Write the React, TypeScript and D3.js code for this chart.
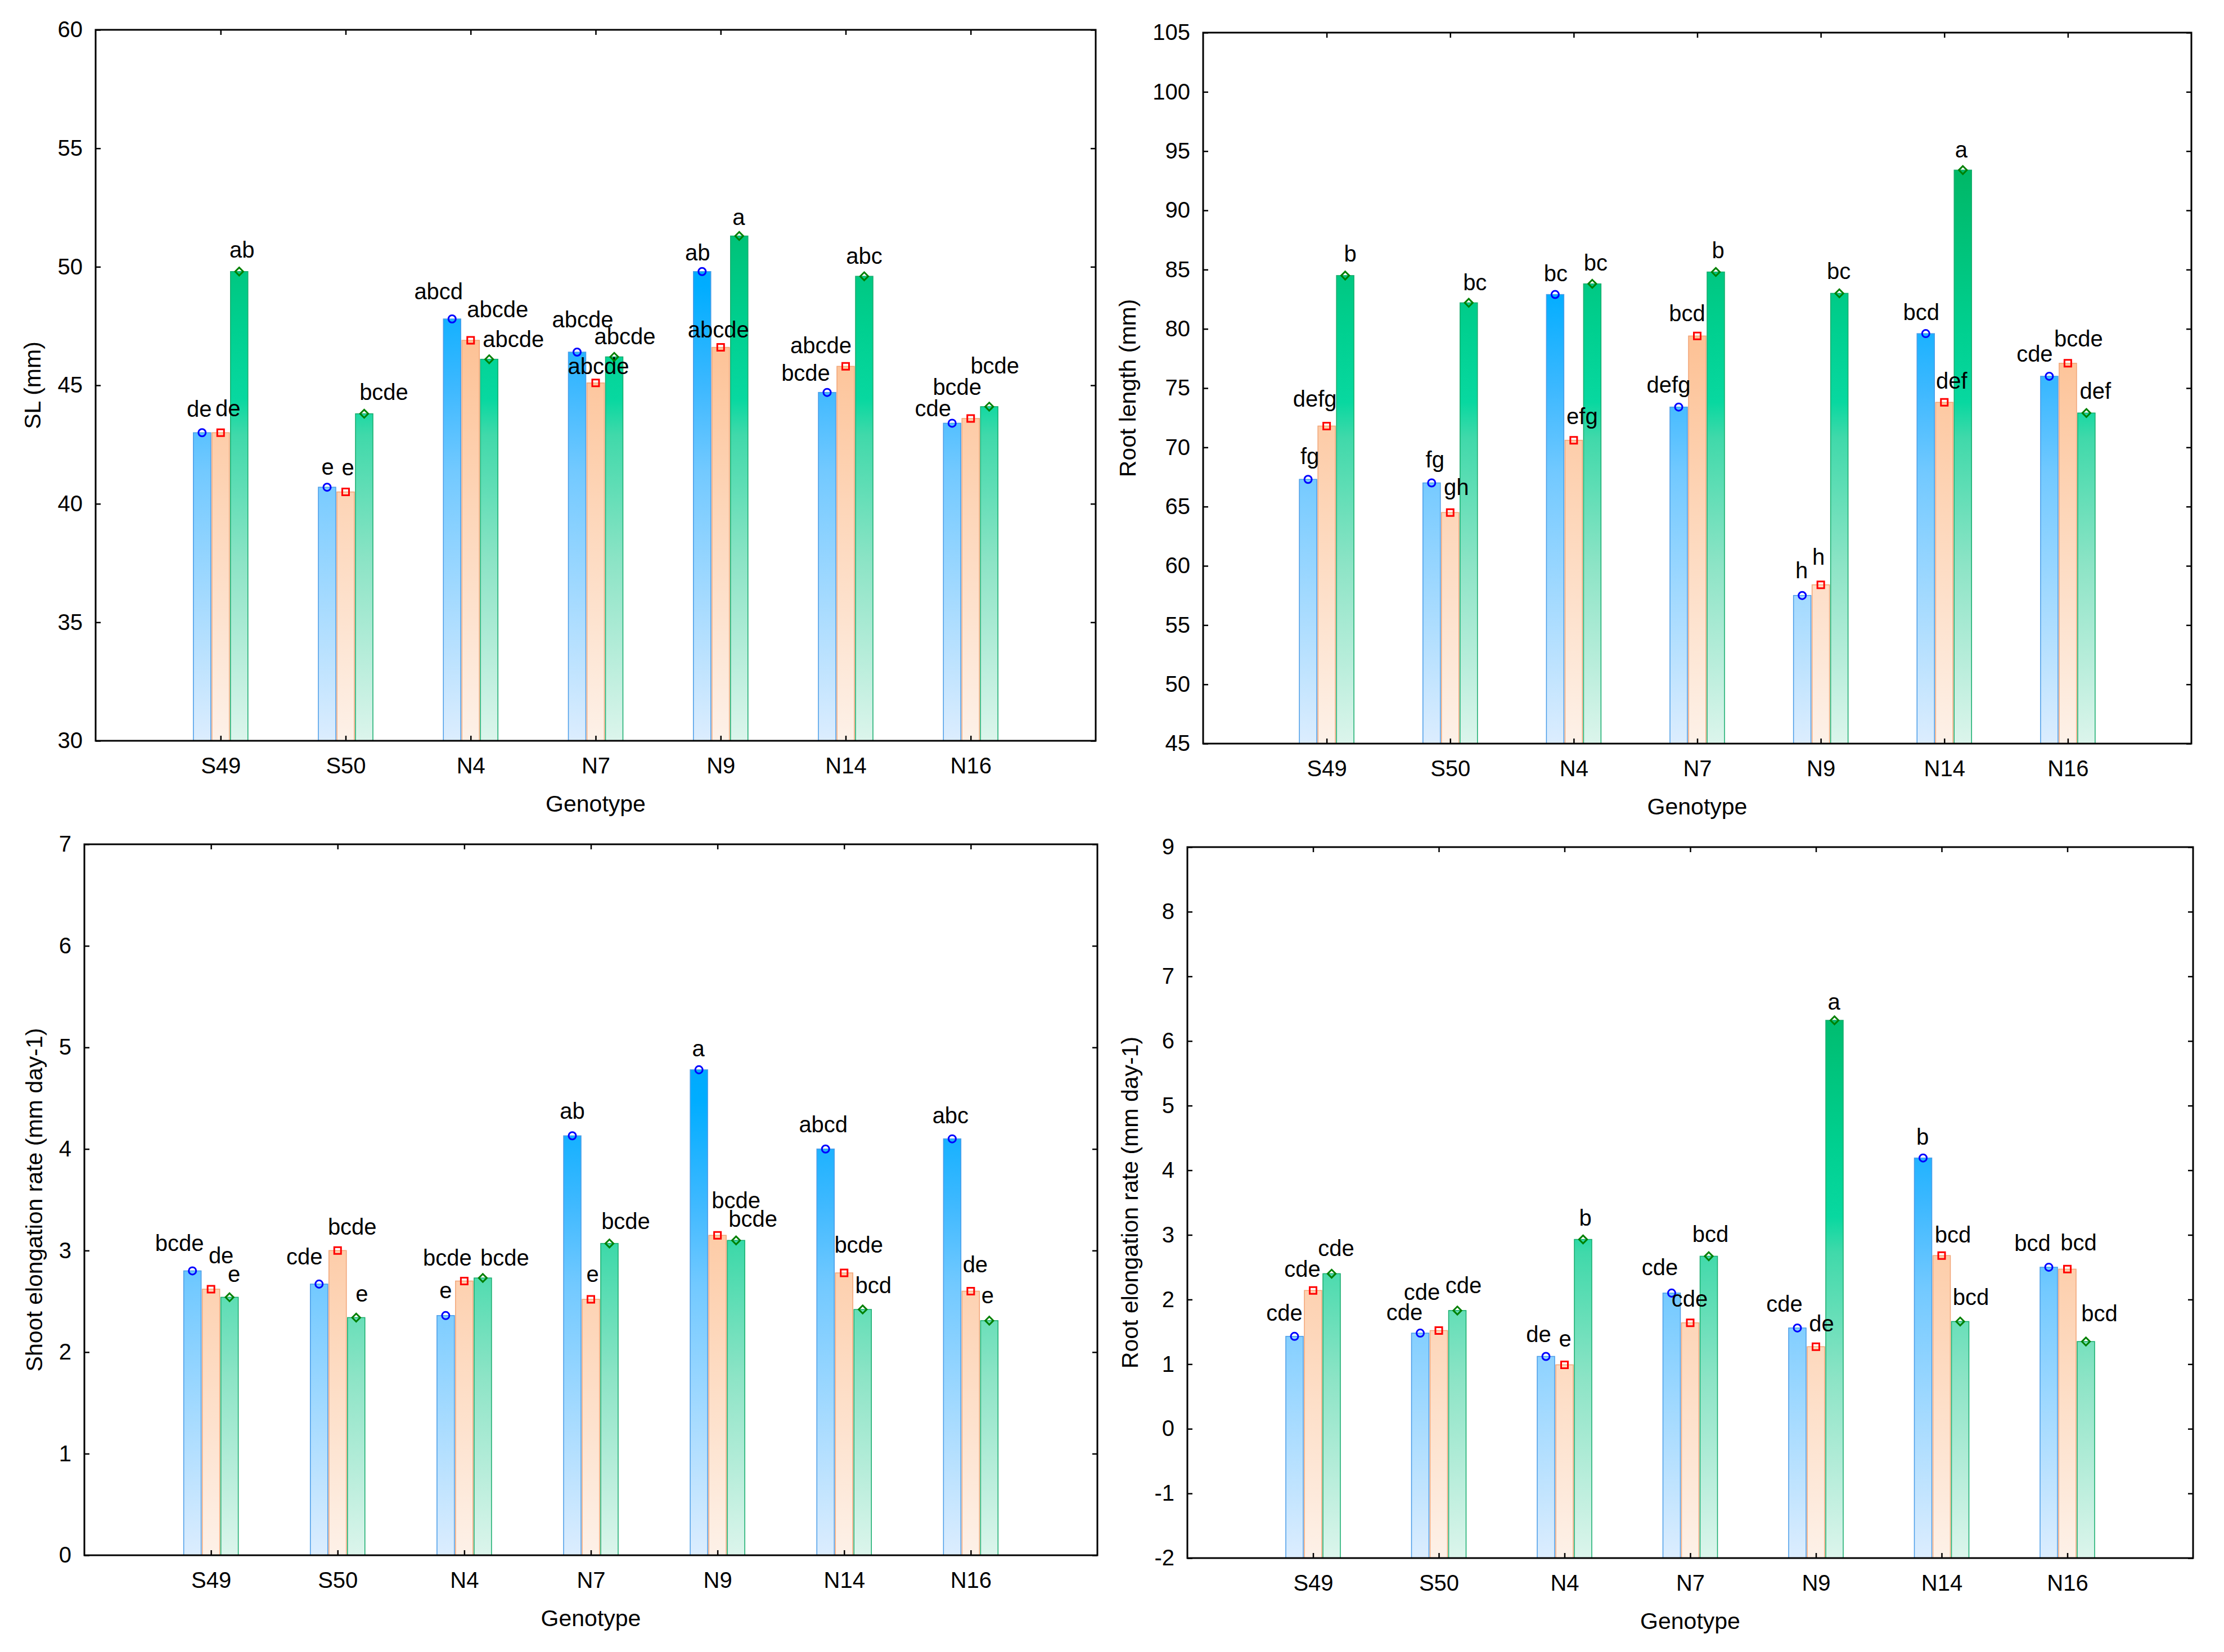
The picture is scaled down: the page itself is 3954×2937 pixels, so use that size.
import React, { useEffect, useRef } from "react";
import * as d3 from "d3";

const genotypes = ["S49", "S50", "N4", "N7", "N9", "N14", "N16"];

// shoot length, mm (three treatments per genotype)
const slA = [43.0, 40.7, 47.8, 46.4, 49.8, 44.7, 43.4];
const slB = [43.0, 40.5, 46.9, 45.1, 46.6, 45.8, 43.6];
const slC = [49.8, 43.8, 46.1, 46.2, 51.3, 49.6, 44.1];
const slLetA = ["de", "e", "abcd", "abcde", "ab", "bcde", "cde"];
const slLetB = ["de", "e", "abcde", "abcde", "abcde", "abcde", "bcde"];
const slLetC = ["ab", "bcde", "abcde", "abcde", "a", "abc", "bcde"];
const slTicks = [30, 35, 40, 45, 50, 55, 60];

// root length, mm
const rlA = [67.3, 67.0, 82.9, 73.4, 57.5, 79.6, 76.0];
const rlB = [71.8, 64.5, 70.6, 79.4, 58.4, 73.8, 77.1];
const rlC = [84.5, 82.2, 83.8, 84.8, 83.0, 93.4, 72.9];
const rlLetA = ["fg", "fg", "bc", "defg", "h", "bcd", "cde"];
const rlLetB = ["defg", "gh", "efg", "bcd", "h", "def", "bcde"];
const rlLetC = ["b", "bc", "bc", "b", "bc", "a", "def"];
const rlTicks = [45, 50, 55, 60, 65, 70, 75, 80, 85, 90, 95, 100, 105];

// shoot elongation rate, mm day-1
const seA = [2.8, 2.67, 2.36, 4.13, 4.78, 4.0, 4.1];
const seB = [2.62, 3.0, 2.7, 2.52, 3.15, 2.78, 2.6];
const seC = [2.54, 2.34, 2.73, 3.07, 3.1, 2.42, 2.31];
const seLetA = ["bcde", "cde", "e", "ab", "a", "abcd", "abc"];
const seLetB = ["de", "bcde", "bcde", "e", "bcde", "bcde", "de"];
const seLetC = ["e", "e", "bcde", "bcde", "bcde", "bcd", "e"];
const seTicks = [0, 1, 2, 3, 4, 5, 6, 7];

// root elongation rate, mm day-1
const reA = [1.43, 1.48, 1.12, 2.1, 1.56, 4.19, 2.5];
const reB = [2.14, 1.52, 0.99, 1.64, 1.27, 2.68, 2.47];
const reC = [2.4, 1.83, 2.93, 2.67, 6.32, 1.66, 1.35];
const reLetA = ["cde", "cde", "de", "cde", "cde", "b", "bcd"];
const reLetB = ["cde", "cde", "e", "cde", "de", "bcd", "bcd"];
const reLetC = ["cde", "cde", "b", "bcd", "a", "bcd", "bcd"];
const reTicks = [-2, -1, 0, 1, 2, 3, 4, 5, 6, 7, 8, 9];

// hand placed letter offsets (px from the marker), one triple per panel
const nudgeSL = [
  [[-5, -28], [1, -22], [-24, -35], [10, -44], [-8, -20], [-38, -21], [-34, -12]],
  [[13, -29], [4, -30], [48, -41], [5, -16], [-4, -18], [-44, -23], [-24, -42]],
  [[5, -25], [35, -25], [43, -22], [19, -22], [-1, -20], [0, -22], [10, -59]],
];
const nudgeRL = [
  [[3, -27], [6, -28], [1, -24], [-18, -26], [-1, -31], [-8, -24], [-26, -26]],
  [[-21, -34], [11, -31], [15, -29], [-18, -26], [-4, -36], [13, -24], [19, -30]],
  [[9, -25], [11, -22], [6, -24], [4, -25], [-1, -25], [-3, -22], [16, -25]],
];
const nudgeSE = [
  [[-23, -35], [-26, -35], [0, -31], [0, -30], [-1, -24], [-4, -30], [-3, -28]],
  [[18, -46], [26, -28], [-30, -27], [3, -31], [33, -48], [26, -36], [8, -34]],
  [[8, -27], [10, -28], [39, -22], [29, -26], [30, -24], [19, -29], [-3, -31]],
];
const nudgeRE = [
  [[-18, -28], [-28, -23], [-13, -25], [-21, -32], [-23, -29], [-1, -24], [-29, -29]],
  [[-19, -24], [-30, -55], [1, -32], [-1, -29], [10, -27], [20, -23], [20, -33]],
  [[8, -31], [11, -31], [4, -24], [3, -25], [-1, -19], [19, -29], [24, -36]],
];

const FONT = "'Liberation Sans', Arial, sans-serif";

const seriesStyle = [
  {
    stops: [[0, "#0094f2"], [0.36, "#00adff"], [0.5, "#3cb8ff"], [0.62, "#72c9ff"], [1, "#dcedfe"]],
    edge: "#4a9ce8",
    marker: d3.symbolCircle,
    size: 133,
    color: "#0000ff",
  },
  {
    stops: [[0, "#ffac70"], [0.45, "#fdc398"], [1, "#fdf1e8"]],
    edge: "#f2a476",
    marker: d3.symbolSquare,
    size: 144,
    color: "#ff0000",
  },
  {
    stops: [[0, "#00ac5e"], [0.2, "#00b868"], [0.42, "#00d090"], [0.52, "#08d8a0"], [0.57, "#40d9aa"], [0.75, "#8de4c6"], [1, "#dcf5ec"]],
    edge: "#16ac6c",
    marker: d3.symbolDiamond2,
    size: 130,
    color: "#008000",
  },
];

const panels = [
  {
    id: "sl", title: "SL (mm)", ticks: slTicks,
    values: [slA, slB, slC], letters: [slLetA, slLetB, slLetC], nudges: nudgeSL,
    left: 170, right: 1948, top: 53, bottom: 1317, titleX: 58,
  },
  {
    id: "rl", title: "Root length (mm)", ticks: rlTicks,
    values: [rlA, rlB, rlC], letters: [rlLetA, rlLetB, rlLetC], nudges: nudgeRL,
    left: 2139, right: 3896, top: 58, bottom: 1322, titleX: 2005,
  },
  {
    id: "se", title: "Shoot elongation rate (mm day-1)", ticks: seTicks,
    values: [seA, seB, seC], letters: [seLetA, seLetB, seLetC], nudges: nudgeSE,
    left: 150, right: 1951, top: 1501, bottom: 2765, titleX: 61,
  },
  {
    id: "re", title: "Root elongation rate (mm day-1)", ticks: reTicks,
    values: [reA, reB, reC], letters: [reLetA, reLetB, reLetC], nudges: nudgeRE,
    left: 2111, right: 3899, top: 1506, bottom: 2770, titleX: 2009,
  },
];

const W = 3954;
const H = 2937;
const BAR_W = 31;
const BAR_STEP = 33;

const App = () => {
  const svgRef = useRef<SVGSVGElement | null>(null);

  useEffect(() => {
    const svg = d3.select(svgRef.current);
    svg.selectAll("*").remove();
    const defs = svg.append("defs");

    panels.forEach(p => {
      const ticks = p.ticks;
      const x = d3.scalePoint<string>().domain(genotypes).range([p.left, p.right]).padding(1);
      const y = d3.scaleLinear()
        .domain([ticks[0], ticks[ticks.length - 1]])
        .range([p.bottom, p.top]);
      const base = y(ticks[0]);
      const g = svg.append("g");

      // gradients run over the whole plot height
      seriesStyle.forEach((s, k) => {
        const grad = defs.append("linearGradient")
          .attr("id", `${p.id}-g${k}`)
          .attr("gradientUnits", "userSpaceOnUse")
          .attr("x1", 0).attr("x2", 0)
          .attr("y1", p.top).attr("y2", p.bottom);
        s.stops.forEach(([o, c]) => {
          grad.append("stop").attr("offset", o as number).attr("stop-color", c as string);
        });
      });

      // bars
      p.values.forEach((vals, k) => {
        g.selectAll(null)
          .data(vals)
          .enter()
          .append("rect")
          .attr("x", (d, i) => x(genotypes[i])! + (k - 1) * BAR_STEP - BAR_W / 2)
          .attr("y", d => y(d))
          .attr("width", BAR_W)
          .attr("height", d => base - y(d))
          .attr("fill", `url(#${p.id}-g${k})`)
          .attr("stroke", seriesStyle[k].edge)
          .attr("stroke-width", 1.5);
      });

      // axes, ticks pointing inward
      const styleAxis = (sel: any) => {
        sel.select(".domain").remove();
        sel.selectAll(".tick line").attr("stroke", "#000").attr("stroke-width", 2.5);
        sel.selectAll("text")
          .attr("fill", "#000")
          .style("font-family", FONT)
          .style("font-size", "40px");
      };

      g.append("g")
        .attr("transform", `translate(${p.left},0)`)
        .call(d3.axisLeft(y).tickValues(ticks).tickSizeInner(-9).tickSizeOuter(0).tickPadding(23).tickFormat(d => String(d)))
        .call(styleAxis);
      g.append("g")
        .attr("transform", `translate(${p.right},0)`)
        .call(d3.axisRight(y).tickValues(ticks).tickSizeInner(-9).tickSizeOuter(0).tickFormat(() => ""))
        .call(styleAxis);
      g.append("g")
        .attr("transform", `translate(0,${p.bottom})`)
        .call(d3.axisBottom(x).tickSizeInner(-9).tickSizeOuter(0).tickPadding(30))
        .call(styleAxis);
      g.append("g")
        .attr("transform", `translate(0,${p.top})`)
        .call(d3.axisTop(x).tickSizeInner(-9).tickSizeOuter(0).tickFormat(() => ""))
        .call(styleAxis);

      g.append("rect")
        .attr("x", p.left)
        .attr("y", p.top)
        .attr("width", p.right - p.left)
        .attr("height", p.bottom - p.top)
        .attr("fill", "none")
        .attr("stroke", "#000")
        .attr("stroke-width", 3);

      // markers and letters
      p.values.forEach((vals, k) => {
        const s = seriesStyle[k];
        g.selectAll(null)
          .data(vals)
          .enter()
          .append("path")
          .attr("d", d3.symbol().type(s.marker).size(s.size)())
          .attr("transform", (d, i) =>
            `translate(${x(genotypes[i])! + (k - 1) * BAR_STEP},${y(d)})`)
          .attr("fill", "none")
          .attr("stroke", s.color)
          .attr("stroke-width", 3);

        g.selectAll(null)
          .data(vals)
          .enter()
          .append("text")
          .attr("x", (d, i) => x(genotypes[i])! + (k - 1) * BAR_STEP + p.nudges[k][i][0])
          .attr("y", (d, i) => y(d) + p.nudges[k][i][1])
          .attr("text-anchor", "middle")
          .style("font-family", FONT)
          .style("font-size", "40px")
          .attr("fill", "#000")
          .text((d, i) => p.letters[k][i]);
      });

      g.append("text")
        .attr("x", (p.left + p.right) / 2)
        .attr("y", p.bottom + 126)
        .attr("text-anchor", "middle")
        .style("font-family", FONT)
        .style("font-size", "41px")
        .text("Genotype");

      g.append("text")
        .attr("transform", `translate(${p.titleX},${(p.top + p.bottom) / 2}) rotate(-90)`)
        .attr("text-anchor", "middle")
        .attr("dominant-baseline", "central")
        .style("font-family", FONT)
        .style("font-size", "41px")
        .text(p.title);
    });
  }, []);

  return (
    <div style={{ position: "absolute", left: 0, top: 0, width: W, height: H, background: "#fff" }}>
      <svg ref={svgRef} width={W} height={H} style={{ display: "block" }}></svg>
    </div>
  );
};

export default App;
